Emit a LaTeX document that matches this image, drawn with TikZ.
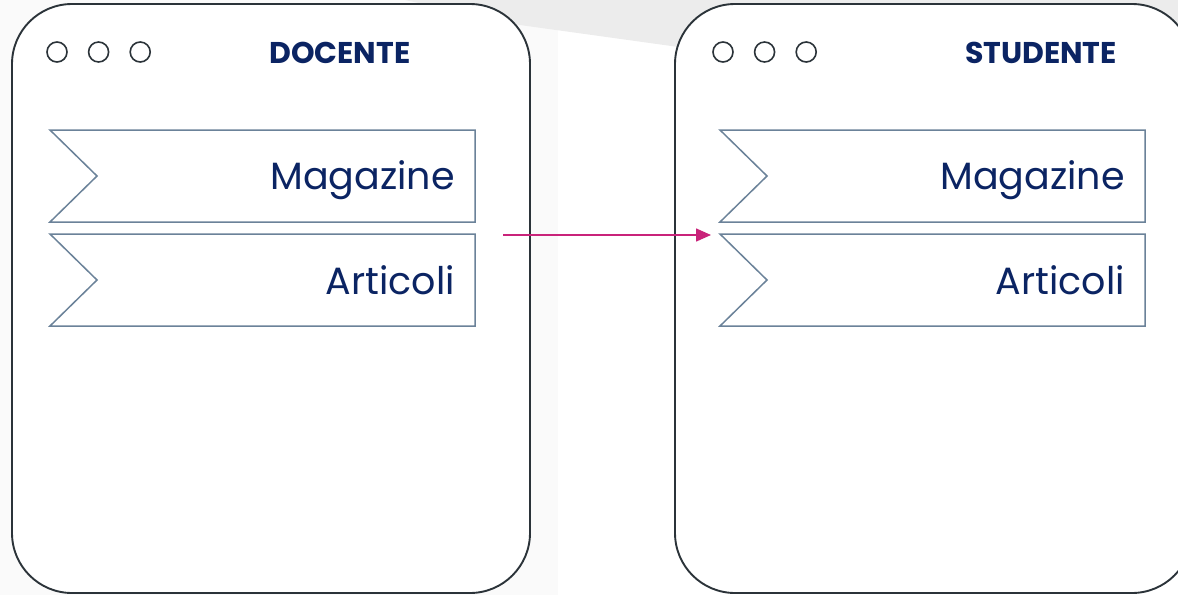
\documentclass[tikz,border=0pt]{standalone}
\usepackage{fontspec}
\setmainfont{Poppins}
\usetikzlibrary{arrows.meta,positioning}
\definecolor{navy}{HTML}{0B2463}
\definecolor{slate}{HTML}{6B8299}
\definecolor{frame}{HTML}{2B3339}
\definecolor{pink}{HTML}{C9237A}
\definecolor{bandgrey}{HTML}{ECECEC}
\definecolor{pagegrey}{HTML}{FAFAFA}
\tikzset{
  window/.style={draw=frame,line width=1.9pt,rounded corners=60pt,fill=white},
  dot/.style={circle,draw=frame,line width=1.6pt,minimum size=20pt,inner sep=0pt},
  wintitle/.style={font=\fontsize{30}{33}\selectfont\bfseries,text=navy,anchor=base},
  tabtext/.style={font=\fontsize{38}{42}\selectfont,text=navy,anchor=base east,inner sep=0pt},
  tab/.style={draw=slate,line width=1.5pt},
}

\begin{document}
\begin{tikzpicture}[x=1pt,y=-1pt]
\useasboundingbox (0,0) rectangle (1178,595);
% background
\fill[pagegrey] (0,0) rectangle (558,595);
\fill[bandgrey] (405,0) -- (520,25) -- (700,50) -- (1178,50) -- (1178,0) -- cycle;
%
% windows
\draw[window] (12,4) rectangle (530,593);
\draw[window] (675,4) rectangle (1192,593);
%
\node (d1) [dot] at (57,52) {};
\node (d2) [dot,right=20pt of d1] {};
\node (d3) [dot,right=20pt of d2] {};
\node (docente) [wintitle] at (340,63) {DOCENTE};
%
\node (s1) [dot] at (723,52) {};
\node (s2) [dot,right=20pt of s1] {};
\node (s3) [dot,right=20pt of s2] {};
\node (studente) [wintitle] at (1041,63) {STUDENTE};
%
% tabs
\foreach \x/\w in {50/l,720/r}{
  \draw[tab] (\x,130) -- ++(425,0) -- ++(0,92) -- ++(-425,0) -- ++(47,-46) -- cycle;
  \draw[tab] (\x,234) -- ++(425,0) -- ++(0,92) -- ++(-425,0) -- ++(47,-46) -- cycle;
  \node (\w mag) [tabtext] at (\x+405,189) {Magazine};
  \node (\w art) [tabtext] at (\x+405,294) {Articoli};
}
%
\coordinate (from) at (503,235);
\coordinate (to) at (711,235);
\draw[pink,line width=1.5pt,-{Triangle[length=15pt,width=13pt]}] (from) -- (to);
\end{tikzpicture}
\end{document}
